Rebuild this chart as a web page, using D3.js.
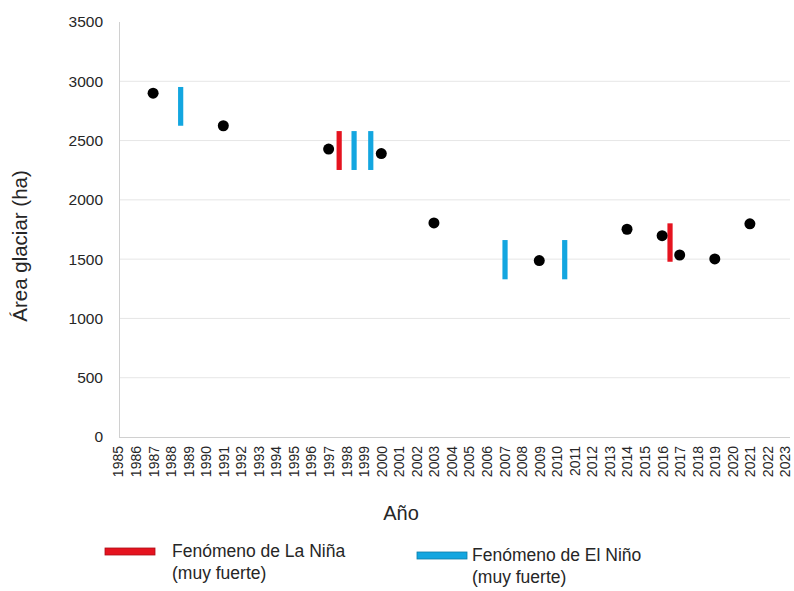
<!DOCTYPE html>
<html>
<head>
<meta charset="utf-8">
<script src="https://cdn.jsdelivr.net/npm/d3@7"></script>
<style>
  body { margin: 0; background: #fff; }
  text { font-family: "Liberation Sans", Arial, sans-serif; fill: #262626; }
</style>
</head>
<body>
<div id="content"></div>
<script>
// glacier area observations
var years = [1987, 1991, 1997, 2000, 2003, 2009, 2014, 2016, 2017, 2019, 2021];
var areas = [2900, 2625, 2428, 2390, 1805, 1488, 1752, 1698, 1535, 1502, 1798];

// ENSO events (position on year axis, bar top, bar bottom)
var ninaX = [1997.6, 2016.45];
var ninaTop = [2580, 1802];
var ninaBottom = [2252, 1478];
var ninoX = [1988.57, 1998.45, 1999.4, 2007.05, 2010.45];
var ninoTop = [2952, 2580, 2580, 1661, 1661];
var ninoBottom = [2625, 2252, 2252, 1330, 1330];

var yTicks = [0, 500, 1000, 1500, 2000, 2500, 3000, 3500];
var yearTicks = d3.range(1985, 2024);

var red = "#e5131f", blue = "#13a6e0";
var width = 794, height = 591;

var svg = d3.select("#content").append("svg")
  .attr("width", width)
  .attr("height", height);

var x = d3.scaleLinear().domain([1985, 2023]).range([118, 785]);
var y = d3.scaleLinear().domain([0, 3500]).range([437, 22]);

// gridlines
svg.append("g")
  .selectAll("line")
  .data(yTicks.filter(function(d){ return d > 0 && d < 3500; }))
  .enter().append("line")
    .attr("x1", 119).attr("x2", 790)
    .attr("y1", function(d){ return y(d); })
    .attr("y2", function(d){ return y(d); })
    .attr("stroke", "#e6e6e6")
    .attr("stroke-width", 1);

// axes lines
svg.append("line")
  .attr("x1", 119.5).attr("x2", 119.5)
  .attr("y1", y(3500)).attr("y2", y(0))
  .attr("stroke", "#d0d0d0");
svg.append("line")
  .attr("x1", 119).attr("x2", 790)
  .attr("y1", y(0) + 0.5).attr("y2", y(0) + 0.5)
  .attr("stroke", "#d0d0d0");

// y axis labels
var yAxis = svg.append("g")
  .attr("transform", "translate(103,0)")
  .call(d3.axisLeft(y).tickValues(yTicks).tickSize(0).tickFormat(d3.format("d")));
yAxis.select(".domain").remove();
yAxis.selectAll("text")
  .attr("x", 0)
  .style("font-size", "15.5px")
  .style("font-family", "Liberation Sans, Arial, sans-serif")
  .attr("fill", "#262626");

// x axis labels (rotated)
var xAxis = svg.append("g")
  .attr("transform", "translate(0," + (y(0) + 9) + ")")
  .call(d3.axisBottom(x).tickValues(yearTicks).tickSize(0).tickFormat(d3.format("d")));
xAxis.select(".domain").remove();
xAxis.selectAll("text")
  .attr("transform", "rotate(-90)")
  .attr("text-anchor", "end")
  .attr("x", 0)
  .attr("y", 0)
  .attr("dy", "0.35em")
  .style("font-size", "14px")
  .style("font-family", "Liberation Sans, Arial, sans-serif")
  .attr("fill", "#262626");

// axis titles
svg.append("text")
  .attr("x", 401).attr("y", 520)
  .attr("text-anchor", "middle")
  .style("font-size", "20px")
  .text("Año");
svg.append("text")
  .attr("transform", "translate(27,246) rotate(-90)")
  .attr("text-anchor", "middle")
  .style("font-size", "20.5px")
  .text("Área glaciar (ha)");

// ENSO bars
var ninaData = ninaX.map(function(d, i){ return {x: d, t: ninaTop[i], b: ninaBottom[i]}; });
var ninoData = ninoX.map(function(d, i){ return {x: d, t: ninoTop[i], b: ninoBottom[i]}; });

svg.append("g").selectAll("rect")
  .data(ninaData)
  .enter().append("rect")
    .attr("x", function(d){ return x(d.x) - 2.6; })
    .attr("y", function(d){ return y(d.t); })
    .attr("width", 5.2)
    .attr("height", function(d){ return y(d.b) - y(d.t); })
    .attr("fill", red);

svg.append("g").selectAll("rect")
  .data(ninoData)
  .enter().append("rect")
    .attr("x", function(d){ return x(d.x) - 2.6; })
    .attr("y", function(d){ return y(d.t); })
    .attr("width", 5.2)
    .attr("height", function(d){ return y(d.b) - y(d.t); })
    .attr("fill", blue);

// points
svg.append("g").selectAll("circle")
  .data(years)
  .enter().append("circle")
    .attr("cx", function(d){ return x(d); })
    .attr("cy", function(d, i){ return y(areas[i]); })
    .attr("r", 5.5)
    .attr("fill", "#000");

// legend
var legendItems = [
  {color: red, label: "Fenómeno de La Niña", x: 105, y: 548, tx: 172, ty: 557},
  {color: blue, label: "Fenómeno de El Niño", x: 417, y: 552, tx: 472, ty: 561}
];
var legend = svg.append("g");
legendItems.forEach(function(d){
  legend.append("rect")
    .attr("x", d.x).attr("y", d.y)
    .attr("width", 50).attr("height", 7)
    .attr("fill", d.color)
    .attr("stroke", d3.color(d.color).darker(0.8))
    .attr("stroke-width", 0.8);
  var t = legend.append("text")
    .attr("x", d.tx)
    .attr("y", d.ty)
    .style("font-size", "17.5px");
  t.append("tspan").text(d.label);
  t.append("tspan")
    .attr("x", d.tx)
    .attr("dy", "1.25em")
    .text("(muy fuerte)");
});
</script>
</body>
</html>
